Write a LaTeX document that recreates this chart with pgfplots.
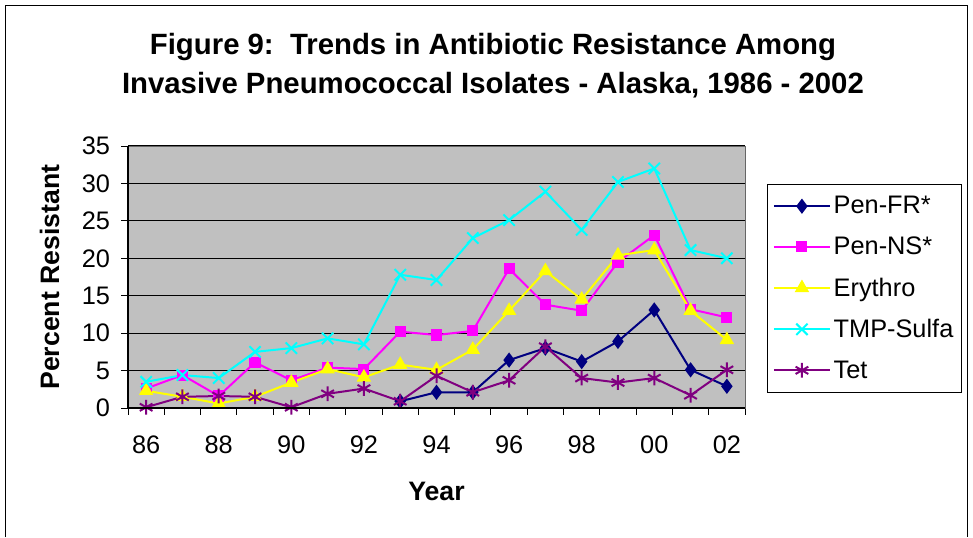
\documentclass[border=0pt]{standalone}
\usepackage{fontspec}
\setmainfont{Liberation Sans}
\usepackage{pgfplots}
\pgfplotsset{compat=1.18}
\definecolor{plotgray}{RGB}{192,192,192}
\definecolor{cnavy}{RGB}{0,0,128}
\definecolor{cmag}{RGB}{255,0,255}
\definecolor{cyel}{RGB}{255,255,0}
\definecolor{ccyan}{RGB}{0,255,255}
\definecolor{cpurp}{RGB}{128,0,128}
\begin{document}
\begin{tikzpicture}[x=0.75pt,y=0.75pt]
\path[use as bounding box] (0,0) rectangle (973,537);
\draw[black,line width=0.75pt] (5,0) -- (5,531) -- (967,531) -- (967,0);
\node[font=\fontsize{22}{26}\bfseries\selectfont] at (493,490) {Figure 9:\ \ Trends in Antibiotic Resistance Among};
\node[font=\fontsize{22}{26}\bfseries\selectfont] at (493,452) {Invasive Pneumococcal Isolates - Alaska, 1986 - 2002};
\begin{axis}[
  at={(96pt,96.75pt)}, anchor=south west,
  width=462.75pt, height=196.5pt, scale only axis,
  xmin=-0.5, xmax=16.5, ymin=0, ymax=35,
  axis background/.style={fill=plotgray},
  axis line style={draw=gray!80!black, line width=0.75pt},
  xtick={0,2,...,16},
  xticklabels={86,88,90,92,94,96,98,00,02},
  major x tick style={draw=none},
  minor xtick={-0.5,0.5,...,16.5},
  minor x tick style={black, line width=0.75pt},
  minor tick length=5pt,
  ytick={0,5,...,35},
  major tick length=5pt,
  tick align=outside,
  xtick pos=bottom, ytick pos=left,
  y tick style={black, line width=0.75pt},
  ymajorgrids, grid style={black, line width=0.9pt},
  tick label style={font=\fontsize{19}{22}\selectfont},
  /pgf/number format/assume math mode=true,
  xticklabel style={yshift=-12pt},
  yticklabel style={xshift=-5pt},
  xlabel={\bfseries Year},
  ylabel={\bfseries Percent Resistant},
  label style={font=\fontsize{20}{24}\bfseries\selectfont},
  xlabel style={yshift=-15pt},
  ylabel style={yshift=10pt},
  every axis plot/.append style={line width=1.5pt},
  legend style={at={(1.0357,0.855)}, anchor=north west, draw=black, line width=0.75pt, fill=white,
     font=\fontsize{19}{22}\selectfont, inner xsep=4pt, inner ysep=7pt, row sep=11.8pt},
  legend cell align=left,
  legend image code/.code={\draw[mark repeat=2,mark phase=2,#1] plot coordinates {(0cm,0cm) (0.74cm,0cm) (1.48cm,0cm)};},
  clip=false,
  after end axis/.code={
    \draw[black,line width=0.9pt] (rel axis cs:0,1) -- (rel axis cs:0,0) -- (rel axis cs:1,0);
  },
]
\addplot[cnavy, mark=diamond*, mark size=4.5pt, mark options={fill=cnavy}] coordinates {
(7,0.9) (8,2.1) (9,2.1) (10,6.4) (11,8.0) (12,6.2) (13,8.9) (14,13.1) (15,5.1) (16,2.9)};
\addlegendentry{Pen-FR*}
\addplot[cmag, mark=square*, mark size=3.4pt, mark options={fill=cmag}] coordinates {
(0,2.6) (1,4.4) (2,1.6) (3,6.1) (4,3.7) (5,5.4) (6,5.2) (7,10.2) (8,9.75) (9,10.3) (10,18.6) (11,13.8) (12,13.0) (13,19.5) (14,23.1) (15,13.2) (16,12.1)};
\addlegendentry{Pen-NS*}
\addplot[cyel, mark=triangle*, mark size=4.8pt, mark options={fill=cyel}] coordinates {
(0,2.3) (1,1.5) (2,0.6) (3,1.5) (4,3.4) (5,5.2) (6,4.1) (7,5.8) (8,5.1) (9,7.8) (10,13.0) (11,18.3) (12,14.5) (13,20.4) (14,21.1) (15,13.0) (16,9.1)};
\addlegendentry{Erythro}
\addplot[ccyan, mark=x, mark size=6pt, mark options={line width=1.5pt}] coordinates {
(0,3.5) (1,4.4) (2,4.0) (3,7.5) (4,8.0) (5,9.3) (6,8.5) (7,17.8) (8,17.1) (9,22.7) (10,25.1) (11,28.9) (12,23.8) (13,30.2) (14,32.0) (15,21.1) (16,20.0)};
\addlegendentry{TMP-Sulfa}
\addplot[cpurp, mark=asterisk, mark size=5.5pt, mark options={line width=1.5pt}] coordinates {
(0,0.1) (1,1.5) (2,1.6) (3,1.5) (4,0.1) (5,1.9) (6,2.6) (7,0.9) (8,4.3) (9,2.1) (10,3.7) (11,8.2) (12,4.0) (13,3.4) (14,4.0) (15,1.7) (16,5.1)};
\addlegendentry{Tet}
\end{axis}
\end{tikzpicture}
\end{document}
